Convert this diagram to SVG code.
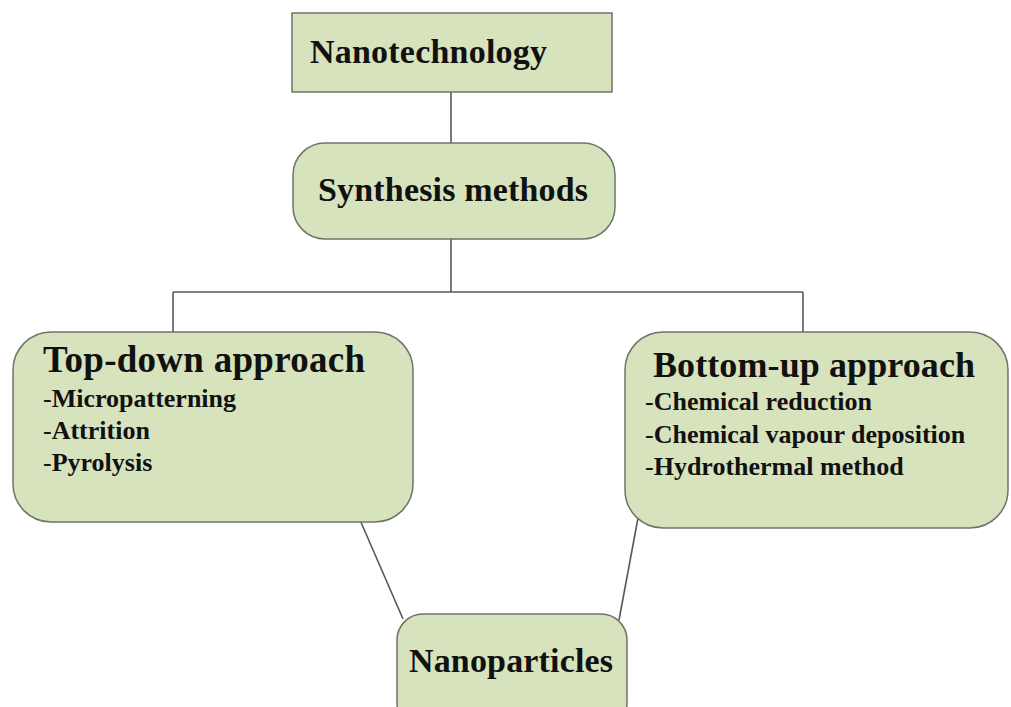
<svg xmlns="http://www.w3.org/2000/svg" width="1011" height="707" viewBox="0 0 1011 707">
<style>
.box{fill:#d7e3bd;stroke:#6f7468;stroke-width:1.5}
.conn{stroke:#55585a;stroke-width:1.6;fill:none}
.t{font-family:"Liberation Serif","Times New Roman",serif;font-weight:bold;fill:#111}
.d{font-weight:normal}
</style>
<rect width="1011" height="707" fill="#ffffff"/>
<g id="connectors">
<line class="conn" x1="451" y1="92" x2="451" y2="143"/>
<line class="conn" x1="451" y1="239" x2="451" y2="292"/>
<line class="conn" x1="173" y1="292" x2="803" y2="292"/>
<line class="conn" x1="173" y1="292" x2="173" y2="332"/>
<line class="conn" x1="803" y1="292" x2="803" y2="332"/>
<line class="conn" x1="360" y1="520" x2="403" y2="619"/>
<line class="conn" x1="638" y1="518" x2="619" y2="620"/>
</g>
<g id="nanotechnology">
<rect class="box" x="292" y="13" width="320" height="79"/>
<text class="t" x="310" y="63" font-size="34" textLength="237">Nanotechnology</text>
</g>
<g id="synthesis">
<rect class="box" x="293" y="143" width="322" height="96" rx="32"/>
<text class="t" x="318" y="201" font-size="34" textLength="270">Synthesis methods</text>
</g>
<g id="topdown">
<rect class="box" x="13" y="332" width="400" height="190" rx="38"/>
<text class="t" x="43" y="372" font-size="37" textLength="322">Top-down approach</text>
<text class="t" x="43" y="407" font-size="26"><tspan class="d">-</tspan>Micropatterning</text>
<text class="t" x="43" y="439" font-size="26"><tspan class="d">-</tspan>Attrition</text>
<text class="t" x="43" y="471" font-size="26"><tspan class="d">-</tspan>Pyrolysis</text>
</g>
<g id="bottomup">
<rect class="box" x="625" y="332" width="383" height="196" rx="38"/>
<text class="t" x="653" y="377" font-size="36" textLength="322">Bottom-up approach</text>
<text class="t" x="645" y="410" font-size="26"><tspan class="d">-</tspan>Chemical reduction</text>
<text class="t" x="645" y="443" font-size="26"><tspan class="d">-</tspan>Chemical vapour deposition</text>
<text class="t" x="645" y="475" font-size="26"><tspan class="d">-</tspan>Hydrothermal method</text>
</g>
<g id="nanoparticles">
<rect class="box" x="397" y="614" width="230" height="115" rx="26"/>
<text class="t" x="409" y="672" font-size="34" textLength="204">Nanoparticles</text>
</g>
</svg>
